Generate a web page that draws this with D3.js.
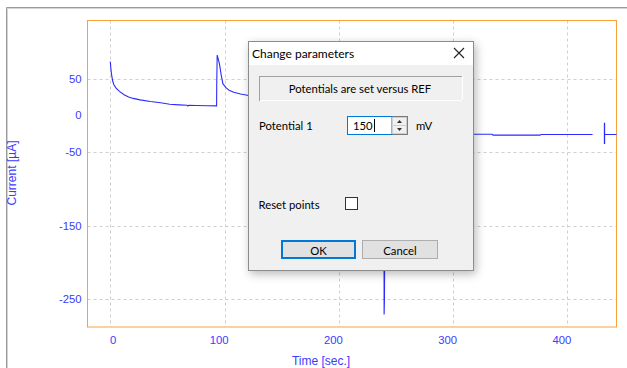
<!DOCTYPE html>
<html>
<head>
<meta charset="utf-8">
<script src="https://cdn.jsdelivr.net/npm/d3@7"></script>
<style>
  html, body { margin: 0; padding: 0; background: #ffffff; }
  svg { display: block; }
</style>
</head>
<body>
<script>
// Chronoamperometry trace: time in seconds, current in µA
const time = [0, 0.3, 1, 2, 3, 5, 8, 12, 16, 20, 26, 35, 44, 52, 60, 67, 67.8, 68.6, 75, 85, 93,
              93.1, 93.5, 94.5, 95.5, 97, 98.5, 101, 104, 108, 114, 121, 130, 145, 165, 190, 215, 239.4,
              239.6, 239.9, 240.4, 241.5, 244, 248, 256, 270, 290, 317, 334, 335, 376, 377, 422];
const current = [73, 66, 56, 47, 42, 37, 32.5, 28, 25, 23, 21, 18.7, 17, 15, 14.2, 13.7, 12.6, 13.7, 13.3, 13, 12.8,
                 40, 82, 76, 70, 55, 43, 38, 34, 31.5, 29, 27, 25, 23, 21, 19.5, 18.5, 17.5,
                 -271, -250, -120, -60, -42, -35, -31, -28, -26.5, -25.7, -25.7, -27, -27, -26, -26];

// Cursor marker at the end of the run
const markerTime = 432.5;
const markerSpan = [-10, -39];
const tailTime = [432.5, 450];
const tailCurrent = [-26, -26];

const xTicks = [0, 100, 200, 300, 400];
const yTickLabels = [50, 0, -50, -150, -250];
const yGridValues = [50, -50, -150, -250];

const W = 627, H = 368;
const svg = d3.select("body").append("svg").attr("width", W).attr("height", H);

// Window frame
svg.append("path").attr("d", "M6.5,368 V7.5 H627").attr("fill", "none").attr("stroke", "#9a9a9a");
svg.append("path").attr("d", "M7.5,368 V8.5 H627").attr("fill", "none").attr("stroke", "#d4d4d4");

const x = d3.scaleLinear().domain([-20, 443]).range([87.5, 616.5]);
const y = d3.scaleLinear().domain([129, -288]).range([20.5, 327]);

const tickColor = "#3b3bff";
const tickFont = "'Liberation Sans', Arial, sans-serif";

// Grid
const grid = svg.append("g").attr("stroke", "#cfcfcf").attr("stroke-dasharray", "3,3");
grid.selectAll("line.v").data(xTicks).join("line")
  .attr("x1", d => Math.round(x(d)) + 0.5).attr("x2", d => Math.round(x(d)) + 0.5)
  .attr("y1", y.range()[0]).attr("y2", y.range()[1]);
grid.selectAll("line.h").data(yGridValues).join("line")
  .attr("y1", d => Math.round(y(d)) + 0.5).attr("y2", d => Math.round(y(d)) + 0.5)
  .attr("x1", x.range()[0]).attr("x2", x.range()[1]);

// Plot frame
svg.append("rect")
  .attr("x", x.range()[0]).attr("y", y.range()[0])
  .attr("width", x.range()[1] - x.range()[0]).attr("height", y.range()[1] - y.range()[0])
  .attr("fill", "none").attr("stroke", "#f7a23c");

// Tick labels (right edge sits just past each grid line)
svg.append("g").selectAll("text").data(xTicks).join("text")
  .attr("x", d => x(d) + (d === 0 ? 6 : 4)).attr("y", 344)
  .attr("text-anchor", "end").attr("fill", tickColor)
  .style("font", "11.3px " + tickFont).text(d => d);
svg.append("g").selectAll("text").data(yTickLabels).join("text")
  .attr("x", 81.5).attr("y", d => y(d) + 4)
  .attr("text-anchor", "end").attr("fill", tickColor)
  .style("font", "11.3px " + tickFont).text(d => d);

// Axis titles
svg.append("text").attr("x", 321).attr("y", 365).attr("text-anchor", "middle")
  .attr("fill", tickColor).style("font", "12px " + tickFont).text("Time [sec.]");
svg.append("text").attr("transform", "translate(16,173) rotate(-90)").attr("text-anchor", "middle")
  .attr("fill", tickColor).style("font", "12px " + tickFont).text("Current [µA]");

// Trace
svg.append("clipPath").attr("id", "plotclip").append("rect")
  .attr("x", x.range()[0]).attr("y", y.range()[0])
  .attr("width", x.range()[1] - x.range()[0]).attr("height", y.range()[1] - y.range()[0]);
const plot = svg.append("g").attr("clip-path", "url(#plotclip)");
const line = d3.line().x(d => x(d[0])).y(d => y(d[1]));
plot.append("path").datum(d3.zip(time, current)).attr("d", line)
  .attr("fill", "none").attr("stroke", "#2a2aff").attr("stroke-width", 1.1);
plot.append("path").datum(d3.zip(tailTime, tailCurrent)).attr("d", line)
  .attr("fill", "none").attr("stroke", "#2a2aff").attr("stroke-width", 1.1);
plot.append("line")
  .attr("x1", x(markerTime)).attr("x2", x(markerTime))
  .attr("y1", y(markerSpan[0])).attr("y2", y(markerSpan[1]))
  .attr("stroke", "#2a2aff").attr("stroke-width", 1.3);

// Dialog: Change parameters
const uiFont = "Lato, 'Noto Sans', sans-serif";
const uiSize = "11.3px ";
const defs = svg.append("defs");
const f = defs.append("filter").attr("id", "shadow").attr("x", "-20%").attr("y", "-20%").attr("width", "140%").attr("height", "140%");
f.append("feDropShadow").attr("dx", 2).attr("dy", 3).attr("stdDeviation", 5)
  .attr("flood-color", "#000").attr("flood-opacity", 0.28);

const dlg = svg.append("g");
dlg.append("rect").attr("x", 248.5).attr("y", 41.5).attr("width", 225).attr("height", 229)
  .attr("fill", "#f0f0f0").attr("stroke", "#8c8c8c").attr("filter", "url(#shadow)");
dlg.append("rect").attr("x", 249).attr("y", 42).attr("width", 224).attr("height", 23).attr("fill", "#ffffff");
dlg.append("text").attr("x", 252).attr("y", 57.5).attr("fill", "#000")
  .style("font", "12px " + uiFont).text("Change parameters");
dlg.append("path").attr("d", "M454,48 L464,58 M464,48 L454,58").attr("stroke", "#222").attr("stroke-width", 1.1);

// Info label box
dlg.append("rect").attr("x", 259.5).attr("y", 76.5).attr("width", 203).attr("height", 24)
  .attr("fill", "#f0f0f0").attr("stroke", "#a0a0a0");
dlg.append("path").attr("d", "M260,100.5 H462.5 V76").attr("fill", "none").attr("stroke", "#ffffff");
dlg.append("text").attr("x", 360).attr("y", 93).attr("text-anchor", "middle").attr("fill", "#000")
  .style("font", uiSize + uiFont).text("Potentials are set versus REF");

// Potential 1 input
dlg.append("text").attr("x", 259).attr("y", 130).attr("fill", "#000")
  .style("font", uiSize + uiFont).text("Potential 1");
dlg.append("rect").attr("x", 347.5).attr("y", 116.5).attr("width", 60).attr("height", 18)
  .attr("fill", "#ffffff").attr("stroke", "#7a7a7a");
dlg.append("rect").attr("x", 347.5).attr("y", 116.5).attr("width", 44.5).attr("height", 18)
  .attr("fill", "#ffffff").attr("stroke", "#0078d7");
dlg.append("rect").attr("x", 392.5).attr("y", 117.5).attr("width", 14).attr("height", 16)
  .attr("fill", "#f0f0f0").attr("stroke", "#cfcfcf");
dlg.append("line").attr("x1", 393).attr("x2", 406).attr("y1", 125.5).attr("y2", 125.5).attr("stroke", "#cfcfcf");
dlg.append("path").attr("d", "M397,123 L402,123 L399.5,120 Z M397,128 L402,128 L399.5,131 Z").attr("fill", "#333");
const valueText = dlg.append("text").attr("x", 353).attr("y", 130).attr("fill", "#000")
  .style("font", uiSize + uiFont).text("150");
const caretX = Math.round(353 + valueText.node().getComputedTextLength() + 1) + 0.5;
dlg.append("line").attr("x1", caretX).attr("x2", caretX).attr("y1", 119).attr("y2", 132).attr("stroke", "#000");
dlg.append("text").attr("x", 416).attr("y", 130).attr("fill", "#000")
  .style("font", uiSize + uiFont).text("mV");

// Reset points checkbox
dlg.append("text").attr("x", 258.5).attr("y", 208.5).attr("fill", "#000")
  .style("font", uiSize + uiFont).text("Reset points");
dlg.append("rect").attr("x", 345.5).attr("y", 197.5).attr("width", 12).attr("height", 12)
  .attr("fill", "#ffffff").attr("stroke", "#333");

// Buttons
dlg.append("rect").attr("x", 281.5).attr("y", 240.5).attr("width", 74).attr("height", 18)
  .attr("fill", "#e1e1e1").attr("stroke", "#0078d7").attr("stroke-width", 1);
dlg.append("rect").attr("x", 282.5).attr("y", 241.5).attr("width", 72).attr("height", 16)
  .attr("fill", "none").attr("stroke", "#0078d7").attr("stroke-width", 1);
dlg.append("text").attr("x", 318.5).attr("y", 254.5).attr("text-anchor", "middle").attr("fill", "#000")
  .style("font", uiSize + uiFont).text("OK");
dlg.append("rect").attr("x", 362.5).attr("y", 240.5).attr("width", 75).attr("height", 18)
  .attr("fill", "#e1e1e1").attr("stroke", "#adadad");
dlg.append("text").attr("x", 400).attr("y", 254.5).attr("text-anchor", "middle").attr("fill", "#000")
  .style("font", uiSize + uiFont).text("Cancel");
</script>
</body>
</html>
